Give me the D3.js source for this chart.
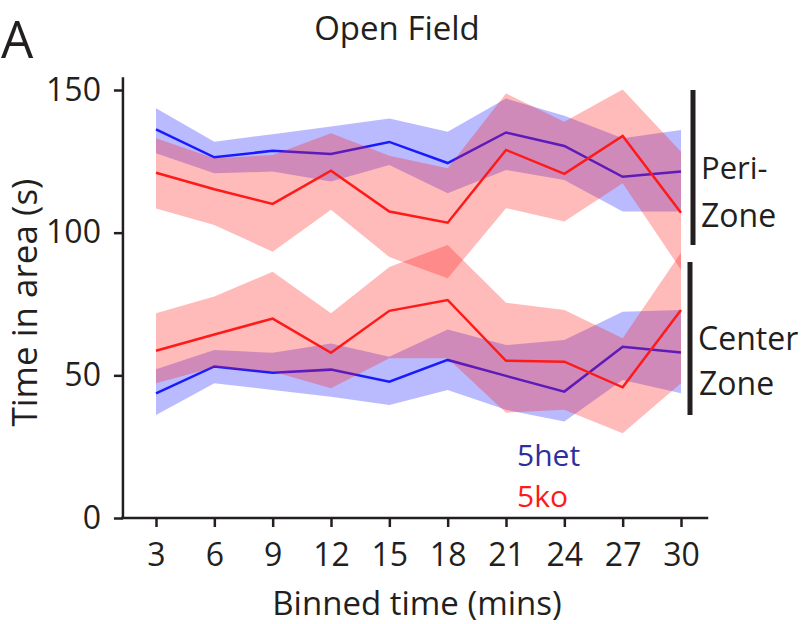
<html>
<head>
<style>
  body { margin: 0; background: #fff; }
  text { font-family: "Open Sans", "Noto Sans", sans-serif; fill: #231f20; }
</style>
</head>
<body>
<svg id="mainSvg" width="801" height="624"></svg>
<script src="https://d3js.org/d3.v7.min.js"></script>
<script>
// binned time (mins)
const times = [3, 6, 9, 12, 15, 18, 21, 24, 27, 30]
const xTicks = [3, 6, 9, 12, 15, 18, 21, 24, 27, 30]
const yTicks = [0, 50, 100, 150]

// peri-zone, mean and band edges
const hetPeri   = [136.2, 126.4, 128.7, 127.6, 131.8, 124.4, 135.1, 130.4, 119.6, 121.4]
const hetPeriHi = [143.6, 131.9, 134.5, 137.2, 140.0, 135.4, 147.0, 141.0, 133.1, 136.0]
const hetPeriLo = [127.8, 120.8, 121.4, 117.9, 123.7, 113.8, 122.0, 118.5, 107.4, 107.4]
const koPeri    = [121.0, 115.2, 110.1, 121.7, 107.4, 103.5, 129.0, 120.6, 133.9, 107.0]
const koPeriHi  = [133.1, 126.1, 127.2, 134.8, 127.0, 122.6, 148.8, 138.9, 150.2, 128.4]
const koPeriLo  = [108.5, 102.7, 93.3, 108.0, 91.5, 84.0, 108.6, 103.9, 117.3, 87.0]

// center zone
const hetCenter   = [43.7, 53.1, 50.9, 52.0, 47.8, 55.4, 49.8, 44.3, 60.0, 58.0]
const hetCenterHi = [52.1, 58.9, 57.9, 61.2, 56.5, 66.1, 60.6, 62.4, 72.3, 72.9]
const hetCenterLo = [36.1, 47.2, 44.9, 42.5, 39.6, 44.9, 37.9, 33.8, 48.4, 43.7]
const koCenter    = [58.6, 64.3, 69.9, 57.9, 72.6, 76.4, 55.1, 54.8, 45.8, 72.9]
const koCenterHi  = [71.8, 77.6, 86.3, 71.8, 88.0, 95.7, 75.4, 72.9, 63.0, 93.0]
const koCenterLo  = [47.2, 52.8, 51.3, 45.5, 56.0, 56.0, 36.9, 37.9, 29.7, 47.2]

const blue = '#1a1aff', red = '#ff1a1a'
const svg = d3.select('#mainSvg')

const x = d3.scaleLinear().domain([3, 30]).range([156, 681])
const y = d3.scaleLinear().domain([0, 150]).range([518, 90])

const area = (lo, hi) => d3.area()
    .x((d, i) => x(times[i]))
    .y0((d, i) => y(lo[i]))
    .y1((d, i) => y(hi[i]))(times)
const line = vals => d3.line()
    .x((d, i) => x(times[i]))
    .y((d, i) => y(vals[i]))(times)

const plot = svg.append('g')
// het bands + lines underneath, ko on top
plot.append('path').attr('d', area(hetPeriLo, hetPeriHi)).attr('fill', blue).attr('fill-opacity', 0.3)
plot.append('path').attr('d', area(hetCenterLo, hetCenterHi)).attr('fill', blue).attr('fill-opacity', 0.3)
plot.append('path').attr('d', line(hetPeri)).attr('fill', 'none').attr('stroke', blue).attr('stroke-width', 2.5)
plot.append('path').attr('d', line(hetCenter)).attr('fill', 'none').attr('stroke', blue).attr('stroke-width', 2.5)
plot.append('path').attr('d', area(koPeriLo, koPeriHi)).attr('fill', red).attr('fill-opacity', 0.3)
plot.append('path').attr('d', area(koCenterLo, koCenterHi)).attr('fill', red).attr('fill-opacity', 0.3)
plot.append('path').attr('d', line(koPeri)).attr('fill', 'none').attr('stroke', red).attr('stroke-width', 2.5)
plot.append('path').attr('d', line(koCenter)).attr('fill', 'none').attr('stroke', red).attr('stroke-width', 2.5)

// axes
const gx = svg.append('g').attr('transform', `translate(0, ${y(0)})`)
    .call(d3.axisBottom(x).tickValues(xTicks).tickSize(9).tickPadding(16).tickSizeOuter(0))
const gy = svg.append('g').attr('transform', `translate(${x(1.3)}, 0)`)
    .call(d3.axisLeft(y).tickValues(yTicks).tickSize(9).tickPadding(13).tickSizeOuter(0))
gx.select('.domain').remove()
gy.select('.domain').remove()
svg.selectAll('.tick line').attr('stroke', '#231f20').attr('stroke-width', 2.5)
svg.selectAll('.tick text').attr('font-size', 32).attr('fill', '#231f20')
    .style('font-family', '"Open Sans", sans-serif')
svg.append('line').attr('x1', x(1.3)).attr('x2', x(1.3)).attr('y1', y(0)).attr('y2', y(154.5))
    .attr('stroke', '#231f20').attr('stroke-width', 2.5)
svg.append('line').attr('x1', x(1.2)).attr('x2', x(31.4)).attr('y1', y(0)).attr('y2', y(0))
    .attr('stroke', '#231f20').attr('stroke-width', 2.5)

// titles
svg.append('text').attr('x', 1).attr('y', 58).attr('font-size', 51).text('A')
svg.append('text').attr('x', 397).attr('y', 40).attr('text-anchor', 'middle').attr('font-size', 33).text('Open Field')
svg.append('text').attr('x', 417).attr('y', 615).attr('text-anchor', 'middle').attr('font-size', 33).text('Binned time (mins)')
svg.append('text').attr('transform', `translate(37, ${y(75.5)}) rotate(-90)`)
    .attr('text-anchor', 'middle').attr('font-size', 35).text('Time in area (s)')

// legend
svg.append('text').attr('x', 517).attr('y', 466).attr('font-size', 30).style('fill', '#2e2e9e').text('5het')
svg.append('text').attr('x', 517).attr('y', 507).attr('font-size', 30).style('fill', red).text('5ko')

// zone brackets
svg.append('line').attr('x1', 693).attr('x2', 693).attr('y1', y(150)).attr('y2', y(95.7))
    .attr('stroke', '#231f20').attr('stroke-width', 5)
svg.append('line').attr('x1', 690).attr('x2', 690).attr('y1', y(89.7)).attr('y2', y(36.1))
    .attr('stroke', '#231f20').attr('stroke-width', 5)
svg.append('text').attr('x', 701).attr('y', 179).attr('font-size', 31).text('Peri-')
svg.append('text').attr('x', 701).attr('y', 227).attr('font-size', 32).text('Zone')
svg.append('text').attr('x', 698).attr('y', 350).attr('font-size', 32).text('Center')
svg.append('text').attr('x', 699).attr('y', 395).attr('font-size', 32).text('Zone')
</script>
</body>
</html>
